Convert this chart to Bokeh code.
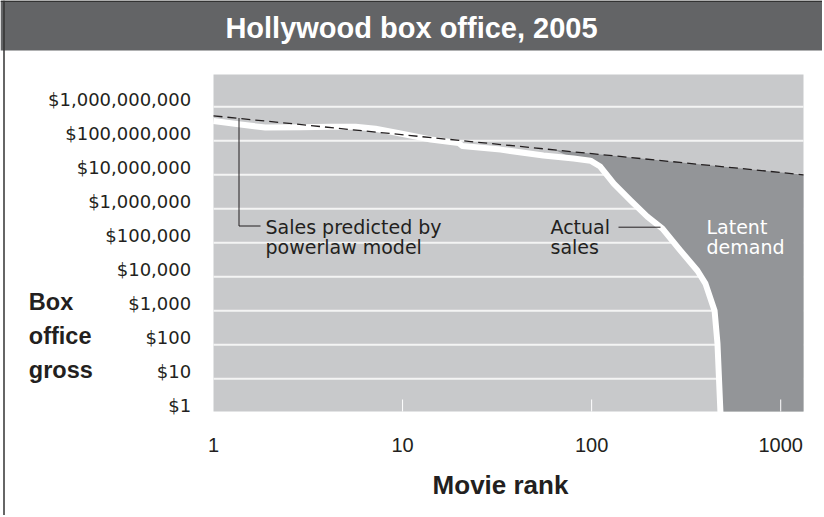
import math
from bokeh.plotting import figure
from bokeh.models import Range1d, LogScale
from bokeh.core.properties import value
from bokeh.embed import file_html
from bokeh.resources import INLINE

# ---------------- data ----------------
actual_rank = [1, 1.39, 1.88, 2.88, 4.16, 5.64, 7.19, 9.75, 14.1, 19.8, 20.7, 33, 55.6,
               80.2, 98.6, 111, 131, 161, 197, 237, 295, 363, 400, 447, 463, 481]
actual_gross = [3.8e8, 3.0e8, 2.46e8, 2.5e8, 2.6e8, 2.6e8, 2.25e8, 1.64e8, 1.09e8, 8.6e7,
                7.0e7, 5.5e7, 3.7e7, 3.0e7, 2.6e7, 1.75e7, 5.5e6, 1.75e6, 5.9e5, 2.6e5,
                5.9e4, 1.5e4, 6.3e3, 1.0e3, 110, 0.8]

pred_rank = [1, 1320]
pred_gross = [5.4e8, 1.0e7]

latent_rank = [64, 1320]
latent_gross = [5.4e7, 1.0e7]

y_ticks = [1, 10, 100, 1e3, 1e4, 1e5, 1e6, 1e7, 1e8, 1e9]
y_tick_labels = ["$1", "$10", "$100", "$1,000", "$10,000", "$100,000", "$1,000,000",
                 "$10,000,000", "$100,000,000", "$1,000,000,000"]
x_ticks = [1, 10, 100, 1000]
x_tick_labels = ["1", "10", "100", "1000"]

TITLE = "Hollywood box office, 2005"
Y_TITLE = ["Box", "office", "gross"]
Y_TITLE_AT = [1e3, 1e2, 1e1]
X_TITLE = "Movie rank"

# data domain of the chart
X_MIN, X_MAX = 1, 1320
Y_MIN, Y_MAX = 1.09, 8.9e9

# ---------------- layout / style ----------------
W, H = 822, 515
PLOT_L, PLOT_R, PLOT_T, PLOT_B = 213, 803, 74, 411
BAND_B = 50

BAND = "#636466"
LIGHT = "#c8c9cb"
DARK = "#939598"
INK = "#231f20"
FONT = "DejaVu Sans"
FONT2 = "Liberation Sans"

# log scales of the chart area, extended to the whole canvas
lx0, lx1 = math.log10(X_MIN), math.log10(X_MAX)
ppx = (PLOT_R - PLOT_L) / (lx1 - lx0)
ly0, ly1 = math.log10(Y_MIN), math.log10(Y_MAX)
ppy = (PLOT_B - PLOT_T) / (ly1 - ly0)
rank_range = Range1d(10 ** (lx0 - PLOT_L / ppx), 10 ** (lx1 + (W - PLOT_R) / ppx))
gross_range = Range1d(10 ** (ly0 - (H - PLOT_B) / ppy), 10 ** (ly1 + PLOT_T / ppy))

p = figure(width=W, height=H, x_range=Range1d(0, W), y_range=Range1d(H, 0),
           x_axis_type=None, y_axis_type=None, toolbar_location=None,
           output_backend="svg", min_border=0, outline_line_color=None,
           background_fill_color="white", border_fill_color="white")
p.extra_x_ranges = {"rank": rank_range}
p.extra_x_scales = {"rank": LogScale()}
p.extra_y_ranges = {"gross": gross_range}
p.extra_y_scales = {"gross": LogScale()}

RG = dict(x_range_name="rank", y_range_name="gross")

# title band and frame lines
p.quad(left=0, right=W, top=0, bottom=BAND_B, fill_color=BAND, line_color=None)
p.segment(x0=0, x1=W, y0=0.75, y1=0.75, line_color="#333333", line_width=1.5)
p.segment(x0=3.5, x1=3.5, y0=0, y1=H, line_color="#333333", line_width=1.5)
p.text(x=411, y=27, text=[TITLE], text_align="center", text_baseline="alphabetic",
       text_color="white", text_font=value(FONT2), text_font_style="bold",
       text_font_size="29px")

# chart background and grid
p.quad(left=X_MIN, right=X_MAX, bottom=Y_MIN, top=Y_MAX, fill_color=LIGHT,
       line_color=None, **RG)
grid_y = [t for t in y_ticks if t > Y_MIN]
p.segment(x0=X_MIN, x1=X_MAX, y0=grid_y, y1=grid_y, line_color="#f4f4f4",
          line_width=2, **RG)

# latent demand area
start = actual_rank.index(80.2)
patch_x = latent_rank + [X_MAX, actual_rank[-1]] + actual_rank[::-1][: len(actual_rank) - start]
patch_y = latent_gross + [Y_MIN, Y_MIN] + actual_gross[::-1][: len(actual_gross) - start]
p.patch(patch_x, patch_y, fill_color=DARK, line_color=None, **RG)

# actual sales
p.line(actual_rank, actual_gross, line_color="white", line_width=6, line_join="round", **RG)

# power-law prediction
p.line(pred_rank, pred_gross, line_color=INK, line_width=1.3, line_dash="9 5", **RG)

# x ticks (white, inside)
tick_x = [t for t in x_ticks if t > X_MIN]
p.segment(x0=tick_x, x1=tick_x, y0=PLOT_B, y1=PLOT_B - 12, line_color="white",
          line_width=1, x_range_name="rank")

# tick labels
p.text(x=190.7, y=y_ticks, text=y_tick_labels, text_align="right",
       text_baseline="alphabetic", text_font=value(FONT), text_font_size="18px",
       text_color=INK, y_offset=-7.5, y_range_name="gross")
p.text(x=x_ticks, y=444, text=x_tick_labels, text_align="center",
       text_baseline="alphabetic", text_font=value(FONT2), text_font_size="20px",
       text_color=INK, x_range_name="rank")

# axis titles
p.text(x=28.3, y=Y_TITLE_AT, text=Y_TITLE, text_align="left", text_baseline="alphabetic",
       text_font=value(FONT2), text_font_style="bold", text_font_size="23.5px",
       text_color=INK, y_offset=-8.5, y_range_name="gross")
p.text(x=500, y=484, text=[X_TITLE], text_align="center", text_baseline="alphabetic",
       text_font=value(FONT2), text_font_style="bold", text_font_size="26px",
       text_color=INK)

# leader lines
p.line([238.5, 238.5, 260], [117.5, 225.5, 225.5], line_color=INK, line_width=1)
p.line([618, 660], [226.7, 226.7], line_color=INK, line_width=1)

# annotations
def note(x, lines, color=INK):
    p.text(x=x, y=[226, 246.5], text=lines, text_align="left",
           text_baseline="alphabetic", text_font=value(FONT), text_font_size="19px",
           text_color=color)

note(265, ["Sales predicted by", "powerlaw model"])
note(550, ["Actual", "sales"])
note(706, ["Latent", "demand"], color="white")

open("out.html", "w").write(file_html(p, INLINE))
